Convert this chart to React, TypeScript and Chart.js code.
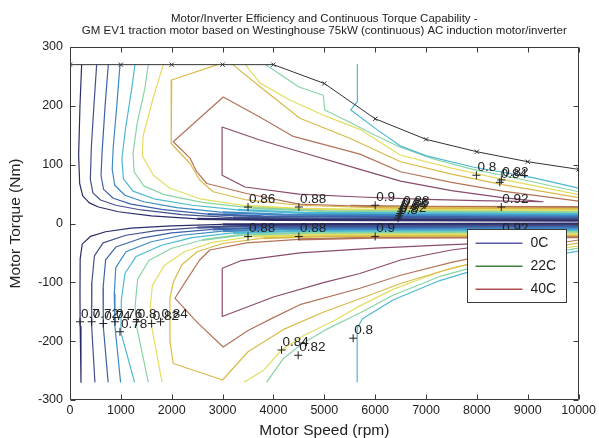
import React, { useEffect, useRef } from 'react';
import { Chart, registerables } from 'chart.js';

Chart.register(...registerables);

type Pt = [number, number];

const FONT = "'Liberation Sans', Arial, Helvetica, sans-serif";
const TEXT_COLOR = '#222222';

const TITLE_LINES = [
  'Motor/Inverter Efficiency and Continuous Torque Capability -',
  'GM EV1 traction motor based on Westinghouse 75kW (continuous) AC induction motor/inverter',
];
const X_TITLE = 'Motor Speed (rpm)';
const Y_TITLE = 'Motor Torque (Nm)';

const X_MIN = 0;
const X_MAX = 10000;
const X_STEP = 1000;
const Y_MIN = -300;
const Y_MAX = 300;
const Y_STEP = 100;

// Continuous torque capability envelope
const envelopeSpeed = [0, 1000, 2000, 3000, 4000, 5000, 6000, 7000, 8000, 9000, 10000];
const envelopeTorque = [270, 270, 270, 270, 270, 238, 178, 143, 122, 105, 92];

// Efficiency contour colours, low (0.70) to high (0.88)
const LEVEL_COLORS = {
  e70: '#2b2e6a',
  e72: '#44508a',
  e74: '#3c63a8',
  e76: '#3f88c2',
  e78: '#4cb8d2',
  e80: '#88d4a6',
  e82: '#e2de62',
  e84: '#d9ba48',
  e86: '#b3735a',
  e88: '#8a4c6c',
};

// Motoring (positive torque) contours: [speed rpm, torque Nm]
const e70Motor: Pt[] = [[229, 270], [196, 200], [170, 116], [190, 68], [250, 47], [380, 35], [560, 28], [950, 20], [1600, 13], [2500, 8], [4000, 6], [10000, 5]];
const e72Motor: Pt[] = [[524, 270], [470, 200], [420, 130], [400, 75], [450, 52], [600, 40], [900, 31], [1400, 23], [2200, 15], [3200, 10], [5000, 8], [10000, 7.5]];
const e74Motor: Pt[] = [[753, 270], [690, 200], [630, 120], [610, 82], [660, 58], [850, 43], [1200, 33], [1800, 24], [2700, 16], [3800, 12], [10000, 10]];
const e76Motor: Pt[] = [[983, 270], [920, 200], [850, 130], [830, 92], [880, 65], [1080, 48], [1450, 37], [2100, 27], [3000, 19], [4200, 15], [10000, 13]];
const e78Motor: Pt[] = [[1277, 270], [1215, 230], [1090, 160], [1020, 110], [1050, 76], [1240, 55], [1650, 42], [2400, 31], [3300, 23], [4600, 18], [10000, 16]];
const e80Motor: Pt[] = [[1539, 270], [1474, 230], [1320, 170], [1240, 120], [1260, 88], [1450, 64], [1850, 49], [2600, 36], [3600, 26], [5000, 21], [10000, 19]];
const e82Motor: Pt[] = [[1834, 270], [1640, 215], [1440, 150], [1420, 115], [1640, 82], [1965, 60], [2555, 42], [3470, 30], [4500, 25], [6000, 23], [10000, 22]];
const e84Motor: Pt[] = [[2900, 270], [2000, 244], [1990, 136], [2360, 102], [2550, 74], [2815, 54], [3470, 40], [4500, 31], [6000, 27], [10000, 25]];
const e86Motor: Pt[] = [[10000, 38], [8500, 55], [7500, 70], [6500, 88], [5700, 118], [4390, 148], [3730, 181], [3012, 215], [2030, 139], [2360, 111], [2490, 88], [2690, 68], [3470, 51], [4500, 33], [5500, 30], [7000, 28.5], [10000, 28]];
const e88Motor: Pt[] = [[2990, 164], [3730, 142], [4520, 122], [5700, 92], [6500, 72], [7500, 56], [8500, 44], [9300, 37], [8000, 39], [7000, 41], [5700, 45], [4500, 50], [3440, 62], [2990, 82], [2990, 164]];

// High-speed branches of the motoring contours
const e78MotorHigh: Pt[] = [[5650, 270], [5650, 207], [5520, 193], [6030, 160], [6490, 132], [7010, 115], [7920, 96], [8450, 88], [9100, 78], [10000, 60]];
const e80MotorHigh: Pt[] = [[3850, 270], [4500, 232], [4980, 218], [5010, 193], [5500, 172], [6000, 150], [6485, 130], [7130, 110], [7920, 92], [8500, 82], [10000, 54]];
const e82MotorHigh: Pt[] = [[3450, 270], [3730, 239], [4320, 210], [5040, 182], [5700, 160], [6500, 116], [7500, 94], [8500, 75], [10000, 49]];
const e84MotorHigh: Pt[] = [[3200, 270], [3700, 235], [4520, 179], [5500, 145], [6500, 105], [7500, 84], [8500, 66], [10000, 44]];

// Regenerating (negative torque) contours
const e70Regen: Pt[] = [[10000, 0], [3000, -1.5], [2000, -4], [1200, -8], [700, -14], [400, -22], [240, -35], [200, -60], [196, -120], [200, -175], [216, -270]];
const e72Regen: Pt[] = [[10000, -2.5], [3500, -4], [2500, -7], [1700, -12], [1100, -20], [650, -33], [480, -55], [430, -100], [426, -175], [490, -270]];
const e74Regen: Pt[] = [[10000, -5], [4000, -6.5], [2800, -10], [2000, -16], [1400, -25], [900, -40], [700, -62], [650, -110], [655, -175], [750, -270]];
const e76Regen: Pt[] = [[10000, -8], [4200, -9.5], [3000, -13], [2200, -20], [1600, -31], [1100, -48], [900, -75], [870, -120], [884, -175], [995, -270]];
const e78Regen: Pt[] = [[10000, -11], [4500, -12.5], [3200, -16], [2400, -24], [1800, -37], [1300, -56], [1080, -85], [1010, -130], [1000, -185], [1270, -270]];
const e80Regen: Pt[] = [[10000, -14], [4800, -15.5], [3400, -19], [2600, -28], [2000, -42], [1550, -63], [1330, -95], [1280, -140], [1310, -175], [1540, -270]];
const e82Regen: Pt[] = [[10000, -17], [5000, -18.5], [3600, -22], [2800, -32], [2250, -48], [1850, -72], [1620, -105], [1580, -140], [1605, -175], [1810, -270]];
const e84Regen: Pt[] = [[10000, -20], [5000, -21.5], [3800, -25], [3000, -34], [2500, -48], [2200, -70], [2030, -100], [1965, -127], [1965, -200], [2030, -238], [3000, -266], [3500, -218], [4200, -180], [5000, -150], [5700, -128], [6500, -102], [7500, -76], [8500, -55], [10000, -33]];
const e86Regen: Pt[] = [[10000, -23], [6000, -24], [4500, -27], [3470, -33], [2750, -45], [2550, -62], [2300, -95], [2063, -127], [2500, -168], [3012, -210], [3500, -182], [4000, -160], [4520, -138], [5700, -110], [6500, -88], [7500, -66], [8500, -48], [10000, -28]];
const e88Regen: Pt[] = [[2993, -76], [3370, -63], [4520, -50], [6000, -42], [7500, -36], [8700, -32], [7500, -45], [6500, -62], [5700, -85], [5000, -100], [4000, -125], [2993, -158], [2993, -76]];

const e78RegenHigh: Pt[] = [[5646, -270], [5646, -178], [5750, -162], [6350, -130], [7270, -97], [7925, -80], [9000, -61], [10000, -47]];
const e80RegenHigh: Pt[] = [[3865, -270], [4190, -230], [4585, -203], [5040, -180], [5700, -152], [6350, -122], [7270, -90], [8000, -73], [9000, -56], [10000, -42]];
const e82RegenHigh: Pt[] = [[3420, -270], [3800, -250], [4160, -215], [4600, -190], [5200, -165], [5700, -140], [6350, -112], [7270, -82], [8000, -66], [9000, -51], [10000, -38]];

// Contour labels (clabel style: '+' at the point, text beside it)
const labelText = [
  '0.86', '0.88', '0.9', '0.8', '0.82', '0.84', '0.86', '0.88', '0.8', '0.82', '0.84', '0.92',
  '0.88', '0.88', '0.9', '0.92', '0.84', '0.82', '0.8',
  '0.7', '0.72', '0.74', '0.76', '0.78', '0.8', '0.82', '0.84',
];
const labelSpeed = [
  3500, 4500, 6000, 6450, 6470, 6490, 6510, 6530, 7990, 8480, 8450, 8480,
  3500, 4500, 6000, 8480, 4160, 4486, 5567,
  196, 426, 655, 884, 983, 1310, 1605, 1780,
];
const labelTorque = [
  28, 28, 31, 9, 13, 17, 21, 25, 82, 74, 70, 28,
  -22, -22, -22, -22, -215, -224, -195,
  -167, -167, -170, -167, -184, -167, -170, -167,
];

// Temperature legend
const legendLabels = ['0C', '22C', '40C'];
const legendColors = ['#5b5ba8', '#3f7f3f', '#b05050'];

const CONTOURS: { pts: Pt[]; color: string }[] = [
  { pts: e70Motor, color: LEVEL_COLORS.e70 },
  { pts: e72Motor, color: LEVEL_COLORS.e72 },
  { pts: e74Motor, color: LEVEL_COLORS.e74 },
  { pts: e76Motor, color: LEVEL_COLORS.e76 },
  { pts: e78Motor, color: LEVEL_COLORS.e78 },
  { pts: e80Motor, color: LEVEL_COLORS.e80 },
  { pts: e82Motor, color: LEVEL_COLORS.e82 },
  { pts: e84Motor, color: LEVEL_COLORS.e84 },
  { pts: e86Motor, color: LEVEL_COLORS.e86 },
  { pts: e88Motor, color: LEVEL_COLORS.e88 },
  { pts: e78MotorHigh, color: LEVEL_COLORS.e78 },
  { pts: e80MotorHigh, color: LEVEL_COLORS.e80 },
  { pts: e82MotorHigh, color: LEVEL_COLORS.e82 },
  { pts: e84MotorHigh, color: LEVEL_COLORS.e84 },
  { pts: e70Regen, color: LEVEL_COLORS.e70 },
  { pts: e72Regen, color: LEVEL_COLORS.e72 },
  { pts: e74Regen, color: LEVEL_COLORS.e74 },
  { pts: e76Regen, color: LEVEL_COLORS.e76 },
  { pts: e78Regen, color: LEVEL_COLORS.e78 },
  { pts: e80Regen, color: LEVEL_COLORS.e80 },
  { pts: e82Regen, color: LEVEL_COLORS.e82 },
  { pts: e84Regen, color: LEVEL_COLORS.e84 },
  { pts: e86Regen, color: LEVEL_COLORS.e86 },
  { pts: e88Regen, color: LEVEL_COLORS.e88 },
  { pts: e78RegenHigh, color: LEVEL_COLORS.e78 },
  { pts: e80RegenHigh, color: LEVEL_COLORS.e80 },
  { pts: e82RegenHigh, color: LEVEL_COLORS.e82 },
];

const toXY = (pts: Pt[]) => pts.map(([x, y]) => ({ x, y }));

// Lines crowd into a thick band close to zero torque
const bandWidth = (ctx: any) => {
  const a = ctx.p0.parsed;
  const b = ctx.p1.parsed;
  if (!a || !b) return 1.2;
  const inBand = a.x >= 2500 && b.x >= 2500 && Math.abs(a.y) <= 30 && Math.abs(b.y) <= 30;
  return inBand ? 2.2 : 1.2;
};

const decorPlugin = {
  id: 'decor',
  afterDatasetsDraw(chart: any) {
    const { ctx, chartArea: a, scales } = chart;
    const xs = scales.x;
    const ys = scales.y;
    ctx.save();

    // two-line title centred over the plot area
    ctx.font = `11.5px ${FONT}`;
    ctx.fillStyle = TEXT_COLOR;
    ctx.textAlign = 'center';
    ctx.textBaseline = 'middle';
    const cx = (a.left + a.right) / 2;
    TITLE_LINES.forEach((line, i) => {
      ctx.fillText(line, cx, a.top - 28 + i * 11.5);
    });

    // contour label text
    ctx.font = `13.5px ${FONT}`;
    ctx.textAlign = 'left';
    ctx.textBaseline = 'alphabetic';
    labelText.forEach((t, i) => {
      const px = xs.getPixelForValue(labelSpeed[i]);
      const py = ys.getPixelForValue(labelTorque[i]);
      ctx.fillText(t, px + 1, py - 4);
    });

    // axes box with inward ticks
    ctx.strokeStyle = '#3a3a3a';
    ctx.lineWidth = 1;
    const L = Math.round(a.left) + 0.5;
    const R = Math.round(a.right) - 0.5;
    const T = Math.round(a.top) + 0.5;
    const B = Math.round(a.bottom) - 0.5;
    ctx.beginPath();
    ctx.rect(L, T, R - L, B - T);
    const tl = 5;
    xs.ticks.forEach((t: any) => {
      const px = Math.round(xs.getPixelForValue(t.value)) + 0.5;
      ctx.moveTo(px, B);
      ctx.lineTo(px, B - tl);
      ctx.moveTo(px, T);
      ctx.lineTo(px, T + tl);
    });
    ys.ticks.forEach((t: any) => {
      const py = Math.round(ys.getPixelForValue(t.value)) + 0.5;
      ctx.moveTo(L, py);
      ctx.lineTo(L + tl, py);
      ctx.moveTo(R, py);
      ctx.lineTo(R - tl, py);
    });
    ctx.stroke();

    // legend box
    const bx = Math.round(a.left + a.width * 0.78) + 0.5;
    const bw = Math.round(a.width * 0.195);
    const by = Math.round(a.top + a.height * 0.515) + 0.5;
    const bh = Math.round(a.height * 0.207);
    ctx.fillStyle = '#ffffff';
    ctx.fillRect(bx, by, bw, bh);
    ctx.strokeStyle = '#3a3a3a';
    ctx.lineWidth = 1;
    ctx.strokeRect(bx, by, bw, bh);
    ctx.font = `14px ${FONT}`;
    ctx.textBaseline = 'middle';
    legendLabels.forEach((lab, i) => {
      const ly = by + bh * (0.19 + i * 0.315);
      ctx.strokeStyle = legendColors[i];
      ctx.lineWidth = 1.5;
      ctx.beginPath();
      ctx.moveTo(bx + 8, ly);
      ctx.lineTo(bx + 55, ly);
      ctx.stroke();
      ctx.fillStyle = TEXT_COLOR;
      ctx.fillText(lab, bx + 63, ly);
    });

    ctx.restore();
  },
};

export default function App() {
  const canvasRef = useRef<HTMLCanvasElement | null>(null);

  useEffect(() => {
    document.body.style.margin = '0';
    const canvas = canvasRef.current;
    if (!canvas) return;

    const contourSets = CONTOURS.map((c) => ({
      data: toXY(c.pts),
      borderColor: c.color,
      backgroundColor: c.color,
      borderWidth: 1.2,
      borderJoinStyle: 'round' as const,
      pointRadius: 0,
      fill: false,
      tension: 0,
      order: 2,
      segment: { borderWidth: bandWidth },
    }));

    const envelopeSet = {
      data: envelopeSpeed.map((x, i) => ({ x, y: envelopeTorque[i] })),
      borderColor: '#333333',
      backgroundColor: '#333333',
      borderWidth: 1,
      pointStyle: 'crossRot' as const,
      pointRadius: 3,
      pointBorderColor: '#333333',
      pointBorderWidth: 1,
      fill: false,
      tension: 0,
      order: 1,
    };

    const markerSet = {
      data: labelSpeed.map((x, i) => ({ x, y: labelTorque[i] })),
      showLine: false,
      pointStyle: 'cross' as const,
      pointRadius: 4,
      pointBorderColor: TEXT_COLOR,
      pointBorderWidth: 1,
      borderColor: TEXT_COLOR,
      order: 0,
    };

    const chart = new Chart(canvas, {
      type: 'line',
      data: { datasets: [markerSet, envelopeSet, ...contourSets] as any },
      options: {
        responsive: false,
        animation: false,
        devicePixelRatio: 1,
        events: [],
        layout: { padding: { left: 0, right: 20, top: 47, bottom: 0 } },
        plugins: {
          legend: { display: false },
          tooltip: { enabled: false },
          title: { display: false },
        },
        scales: {
          x: {
            type: 'linear',
            min: X_MIN,
            max: X_MAX,
            grid: { display: false, drawTicks: false },
            border: { display: false },
            ticks: {
              stepSize: X_STEP,
              padding: 3,
              color: TEXT_COLOR,
              font: { family: FONT, size: 12.5 },
              maxRotation: 0,
              callback: (v: any) => String(v),
            },
            title: {
              display: true,
              text: X_TITLE,
              color: TEXT_COLOR,
              font: { family: FONT, size: 15.5, lineHeight: 1.0 },
              padding: { top: 0, bottom: 0 },
            },
            afterFit: (s: any) => {
              s.height = 38;
            },
          },
          y: {
            type: 'linear',
            min: Y_MIN,
            max: Y_MAX,
            grid: { display: false, drawTicks: false },
            border: { display: false },
            ticks: {
              stepSize: Y_STEP,
              padding: 7,
              color: TEXT_COLOR,
              font: { family: FONT, size: 12.5 },
              callback: (v: any) => String(v),
            },
            title: {
              display: true,
              text: Y_TITLE,
              color: TEXT_COLOR,
              font: { family: FONT, size: 15.5, lineHeight: 1.0 },
              padding: { top: 8, bottom: 0 },
            },
            afterFit: (s: any) => {
              s.width = 70;
            },
          },
        },
      },
      plugins: [decorPlugin],
    });

    return () => chart.destroy();
  }, []);

  return (
    <canvas
      ref={canvasRef}
      width={599}
      height={438}
      style={{ display: 'block', width: 599, height: 438 }}
    />
  );
}
